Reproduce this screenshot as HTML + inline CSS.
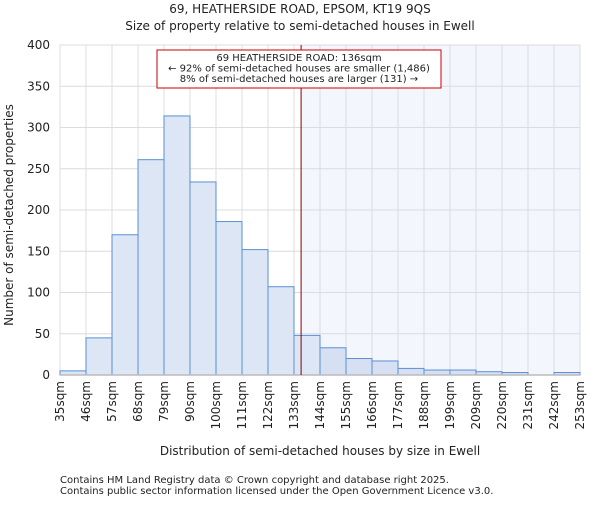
<!DOCTYPE html>
<html><head><meta charset="utf-8"><style>body{margin:0;background:#fff}svg text{font-family:"DejaVu Sans","Liberation Sans",sans-serif;fill:#222}</style></head>
<body>
<svg id="chart" width="600" height="500" xmlns="http://www.w3.org/2000/svg">
<text x="300" y="13" font-size="12" text-anchor="middle">69, HEATHERSIDE ROAD, EPSOM, KT19 9QS</text>
<text x="300" y="30" font-size="12" text-anchor="middle">Size of property relative to semi-detached houses in Ewell</text>
<g id="plot"></g>
<text x="320" y="455" font-size="12" text-anchor="middle">Distribution of semi-detached houses by size in Ewell</text>
<text transform="translate(13,215) rotate(-90)" font-size="12" text-anchor="middle">Number of semi-detached properties</text>
<text x="60" y="483" font-size="10">Contains HM Land Registry data © Crown copyright and database right 2025.</text>
<text x="60" y="494" font-size="10">Contains public sector information licensed under the Open Government Licence v3.0.</text>
</svg>
<script>
const binLabels=["35sqm","46sqm","57sqm","68sqm","79sqm","90sqm","100sqm","111sqm","122sqm","133sqm","144sqm","155sqm","166sqm","177sqm","188sqm","199sqm","209sqm","220sqm","231sqm","242sqm","253sqm"];
const counts=[5,45,170,261,314,234,186,152,107,48,33,20,17,8,6,6,4,3,0,3];
const yTicks=[0,50,100,150,200,250,300,350,400];
const subjectSize=136;
const x0=60,x1=580,yTop=45,yBot=375,yMax=400;
const n=counts.length,bw=(x1-x0)/n;
const xi=i=>x0+i*bw;
const xs=v=>{for(let i=0;i<binLabels.length-1;i++){const a=parseFloat(binLabels[i]),b=parseFloat(binLabels[i+1]);if(v>=a&&v<=b)return xi(i)+(v-a)/(b-a)*bw;}return x1;};
const y=v=>yBot-v/yMax*(yBot-yTop);
const g=document.getElementById('plot');const NS="http://www.w3.org/2000/svg";
function mk(t,a){const e=document.createElementNS(NS,t);for(const k in a)e.setAttribute(k,a[k]);g.appendChild(e);return e;}
const sx=xs(subjectSize);
let e=mk('rect',{x:sx,y:yTop,width:x1-sx,height:yBot-yTop,fill:'#f3f6fd'});


yTicks.forEach(t=>{let l=mk('line',{x1:x0,x2:x1,y1:y(t),y2:y(t),stroke:'#dcdcdc','stroke-width':1});


let tx=mk('text',{x:x0-10,y:y(t)+4,'font-size':12,'text-anchor':'end'});tx.textContent=t;

});
binLabels.forEach((s,i)=>{let l=mk('line',{x1:xi(i),x2:xi(i),y1:yTop,y2:yBot,stroke:'#dcdcdc','stroke-width':1});


let tx=mk('text',{transform:`translate(${xi(i)+4},381) rotate(-90)`,'font-size':12,'text-anchor':'end'});tx.textContent=s;

});
counts.forEach((c,i)=>{let r=mk('rect',{x:xi(i),y:y(c),width:bw,height:yBot-y(c),fill:xi(i)>=sx-1?'#d6e0f2':'#dce6f5',stroke:'#5b8fd6','stroke-width':1});

});
e=mk('line',{x1:x0,x2:x1,y1:yBot,y2:yBot,stroke:'#bbb','stroke-width':1.5});


e=mk('line',{x1:sx,x2:sx,y1:yTop,y2:yBot,stroke:'#800','stroke-width':1});


e=mk('rect',{x:157,y:50,width:284,height:38,fill:'#fff',stroke:'#c00','stroke-width':1});


["69 HEATHERSIDE ROAD: 136sqm","← 92% of semi-detached houses are smaller (1,486)","8% of semi-detached houses are larger (131) →"].forEach((s,i)=>{let t=mk('text',{x:299,y:61+i*10.5,'font-size':10,'text-anchor':'middle'});t.textContent=s;

});
</script>
</body></html>
